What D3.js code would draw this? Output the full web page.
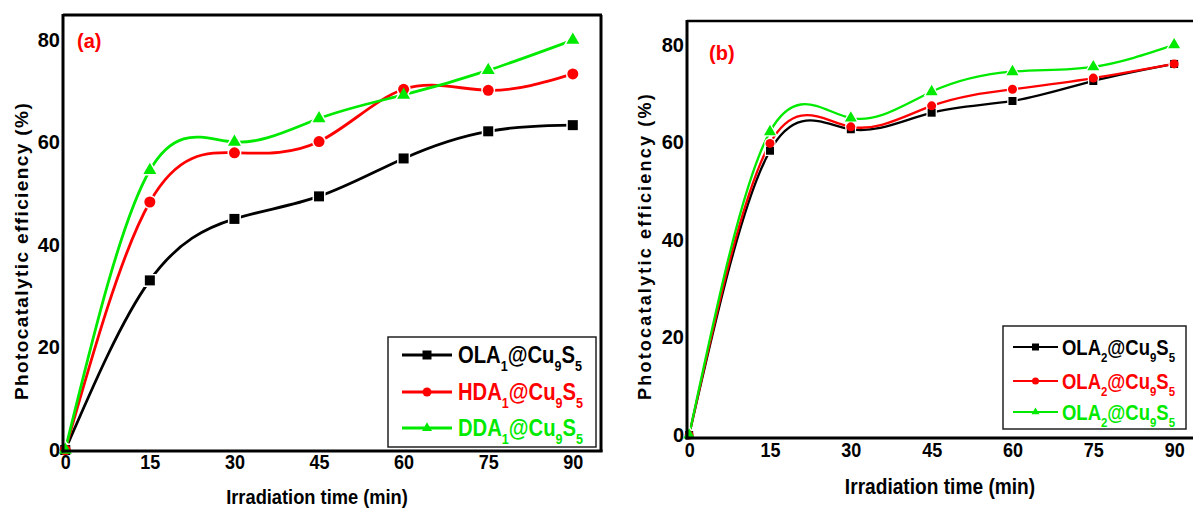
<!DOCTYPE html>
<html>
<head>
<meta charset="utf-8">
<script src="https://cdn.jsdelivr.net/npm/d3@7"></script>
<style>
  body { margin: 0; background: #fff; }
  svg { display: block; font-family: "Liberation Sans", Arial, sans-serif; }
</style>
</head>
<body>
<svg id="fig" width="1193" height="509"></svg>
<script>
// irradiation time (min)
var timeMin = [0, 15, 30, 45, 60, 75, 90];
var xTicks = [0, 15, 30, 45, 60, 75, 90];
var yTicks = [0, 20, 40, 60, 80];

// panel (a)
var ola1 = [0, 33.1, 45.1, 49.5, 56.9, 62.2, 63.4];
var hda1 = [0, 48.4, 58.0, 60.2, 70.4, 70.2, 73.4];
var dda1 = [0, 54.6, 60.1, 64.7, 69.3, 74.1, 80.0];

// panel (b)
var ola2k = [0, 58.3, 62.7, 66.1, 68.5, 72.6, 76.1];
var ola2r = [0, 59.8, 63.2, 67.5, 70.9, 73.2, 76.1];
var ola2g = [0, 62.2, 65.0, 70.4, 74.5, 75.5, 80.0];

var BLACK = '#000', RED = '#ff0000', GREEN = '#00ea00';

var svg = d3.select('#fig');

function symbolPath(type, s) {
    if (type == 'square') return d3.symbol(d3.symbolSquare, s * s)();
    if (type == 'circle') return d3.symbol(d3.symbolCircle, Math.PI * s * s / 4)();
    return d3.symbol(d3.symbolTriangle, Math.sqrt(3) / 4 * s * s)();
}

function drawPanel(cfg) {
    var g = svg.append('g');
    var x = d3.scaleLinear().domain(cfg.xDomain).range(cfg.xRange);
    var y = d3.scaleLinear().domain(cfg.yDomain).range(cfg.yRange);

    var line = d3.line()
        .x(function(d, i) { return x(timeMin[i]); })
        .y(function(d) { return y(d); })
        .curve(d3.curveNatural);

    // lines
    cfg.series.forEach(function(s) {
        g.append('path')
            .attr('d', line(s.values))
            .attr('fill', 'none')
            .attr('stroke', s.color)
            .attr('stroke-width', cfg.lineW);
    });

    // white halos so lines break around symbols
    cfg.series.forEach(function(s) {
        g.selectAll(null).data(s.values).enter().append('path')
            .attr('d', symbolPath(s.shape, cfg.size[s.shape]))
            .attr('transform', function(d, i) { return 'translate(' + x(timeMin[i]) + ',' + y(d) + ')'; })
            .attr('fill', '#fff')
            .attr('stroke', '#fff')
            .attr('stroke-width', cfg.halo);
    });
    cfg.series.forEach(function(s) {
        g.selectAll(null).data(s.values).enter().append('path')
            .attr('d', symbolPath(s.shape, cfg.size[s.shape]))
            .attr('transform', function(d, i) { return 'translate(' + x(timeMin[i]) + ',' + y(d) + ')'; })
            .attr('fill', s.color);
    });

    // frame
    var x0 = cfg.xRange[0], x1 = cfg.xRange[1], yB = cfg.yRange[0], yT = cfg.yRange[1];
    g.append('line').attr('x1', x0).attr('x2', x1 + 1).attr('y1', yT).attr('y2', yT)
        .attr('stroke', '#000').attr('stroke-width', cfg.frameW);
    if (cfg.rightFrame) {
        g.append('line').attr('x1', x1).attr('x2', x1).attr('y1', yT).attr('y2', yB + 1)
            .attr('stroke', '#000').attr('stroke-width', cfg.frameW);
    }

    // axes
    var xAxis = g.append('g')
        .attr('transform', 'translate(0,' + yB + ')')
        .call(d3.axisBottom(x).tickValues(xTicks).tickSize(0).tickPadding(cfg.xPad));
    var yAxis = g.append('g')
        .attr('transform', 'translate(' + x0 + ',0)')
        .call(d3.axisLeft(y).tickValues(yTicks).tickSize(0).tickPadding(cfg.yPad));

    [xAxis, yAxis].forEach(function(ax) {
        ax.select('.domain').attr('stroke', '#000').attr('stroke-width', 3);
        ax.selectAll('text')
            .attr('fill', '#000')
            .style('font-family', '"Liberation Sans", Arial, sans-serif')
            .style('font-weight', 'bold')
            .style('font-size', cfg.tickSize);
    });
    xAxis.selectAll('text').attr('transform', 'scale(0.9,1)');
    xAxis.select('.domain').attr('d', 'M' + (x0 - 1.5) + ',0H' + (x1 + 1.5));
    yAxis.select('.domain').attr('d', 'M0,' + (yB + 1.5) + 'V' + (yT - 1));

    // axis titles
    g.append('text')
        .attr('transform', 'translate(' + cfg.xTitle[0] + ',' + cfg.xTitle[1] + ') scale(0.87,1)')
        .attr('text-anchor', 'middle')
        .style('font-weight', 'bold')
        .style('font-size', cfg.xTitleSize)
        .text('Irradiation time (min)');
    g.append('text')
        .attr('transform', 'translate(' + cfg.yTitle[0] + ',' + cfg.yTitle[1] + ') rotate(-90)')
        .attr('text-anchor', 'middle')
        .style('font-weight', 'bold')
        .style('font-size', cfg.yTitleSize)
        .style('letter-spacing', cfg.yTitleSpacing)
        .text('Photocatalytic efficiency (%)');

    // panel label
    g.append('text')
        .attr('x', cfg.label[0]).attr('y', cfg.label[1])
        .attr('fill', RED)
        .style('font-weight', 'bold')
        .style('font-size', '20px')
        .text(cfg.labelText);

    // legend
    var L = cfg.legend;
    g.append('rect')
        .attr('x', L.x).attr('y', L.y).attr('width', L.w).attr('height', L.h)
        .attr('fill', '#fff').attr('stroke', '#222').attr('stroke-width', 1.5);
    cfg.series.forEach(function(s, i) {
        var cy = L.rows[i];
        g.append('line')
            .attr('x1', L.lineX[0]).attr('x2', L.lineX[1])
            .attr('y1', cy).attr('y2', cy)
            .attr('stroke', s.color).attr('stroke-width', L.lineW);
        g.append('path')
            .attr('d', symbolPath(s.shape, L.sym[s.shape]))
            .attr('transform', 'translate(' + ((L.lineX[0] + L.lineX[1]) / 2) + ',' + cy + ')')
            .attr('fill', s.color);
        var t = g.append('text')
            .attr('transform', 'translate(' + L.textX + ',' + (cy + L.fs * 0.36) + ') scale(' + L.sx + ',1)')
            .attr('fill', s.color)
            .style('font-weight', 'bold')
            .style('font-size', L.fs + 'px');
        s.label.forEach(function(part) {
            var ts = t.append('tspan').text(part[0]);
            if (part[1]) {
                ts.style('font-size', (L.fs * 0.62) + 'px').attr('dy', L.fs * 0.32);
            } else {
                ts.attr('dy', part[2] ? -L.fs * 0.32 : 0);
            }
        });
    });
}

function lbl(name, n) {
    // [text, isSub, afterSub]
    return [[name, false, false], [n, true], ['@Cu', false, true], ['9', true], ['S', false, true], ['5', true]];
}

drawPanel({
    xDomain: [-0.4, 95], xRange: [63, 601],
    yDomain: [-0.2, 84.9], yRange: [451, 15],
    rightFrame: true,
    lineW: 2.8, halo: 3, frameW: 3,
    xPad: 4, yPad: 3, tickSize: '20px',
    size: { square: 10, circle: 11, triangle: 13 },
    xTitle: [317, 504], xTitleSize: '21px',
    yTitle: [28, 251], yTitleSize: '19px', yTitleSpacing: '1.4px',
    label: [77, 48], labelText: '(a)',
    series: [
        { values: ola1, color: BLACK, shape: 'square', label: lbl('OLA', '1') },
        { values: hda1, color: RED, shape: 'circle', label: lbl('HDA', '1') },
        { values: dda1, color: GREEN, shape: 'triangle', label: lbl('DDA', '1') }
    ],
    legend: { x: 388, y: 337, w: 208, h: 110, rows: [355, 392, 428], lineX: [402, 452], lineW: 3,
              textX: 458, fs: 23, sx: 0.88, sym: { square: 9, circle: 9, triangle: 10 } }
});

drawPanel({
    xDomain: [-0.4, 93.5], xRange: [687, 1193],
    yDomain: [-0.6, 84.9], yRange: [438, 21],
    rightFrame: false,
    lineW: 2.3, halo: 2.5, frameW: 2.6,
    xPad: 5, yPad: 3, tickSize: '20px',
    size: { square: 8, circle: 9, triangle: 12 },
    xTitle: [940, 494], xTitleSize: '22px',
    yTitle: [651, 246], yTitleSize: '18px', yTitleSpacing: '2.2px',
    label: [709, 60], labelText: '(b)',
    series: [
        { values: ola2k, color: BLACK, shape: 'square', label: lbl('OLA', '2') },
        { values: ola2r, color: RED, shape: 'circle', label: lbl('OLA', '2') },
        { values: ola2g, color: GREEN, shape: 'triangle', label: lbl('OLA', '2') }
    ],
    legend: { x: 1003, y: 326, w: 183, h: 103, rows: [347, 381, 412], lineX: [1013, 1058], lineW: 2,
              textX: 1062, fs: 22, sx: 0.84, sym: { square: 7, circle: 7, triangle: 8 } }
});
</script>
</body>
</html>
